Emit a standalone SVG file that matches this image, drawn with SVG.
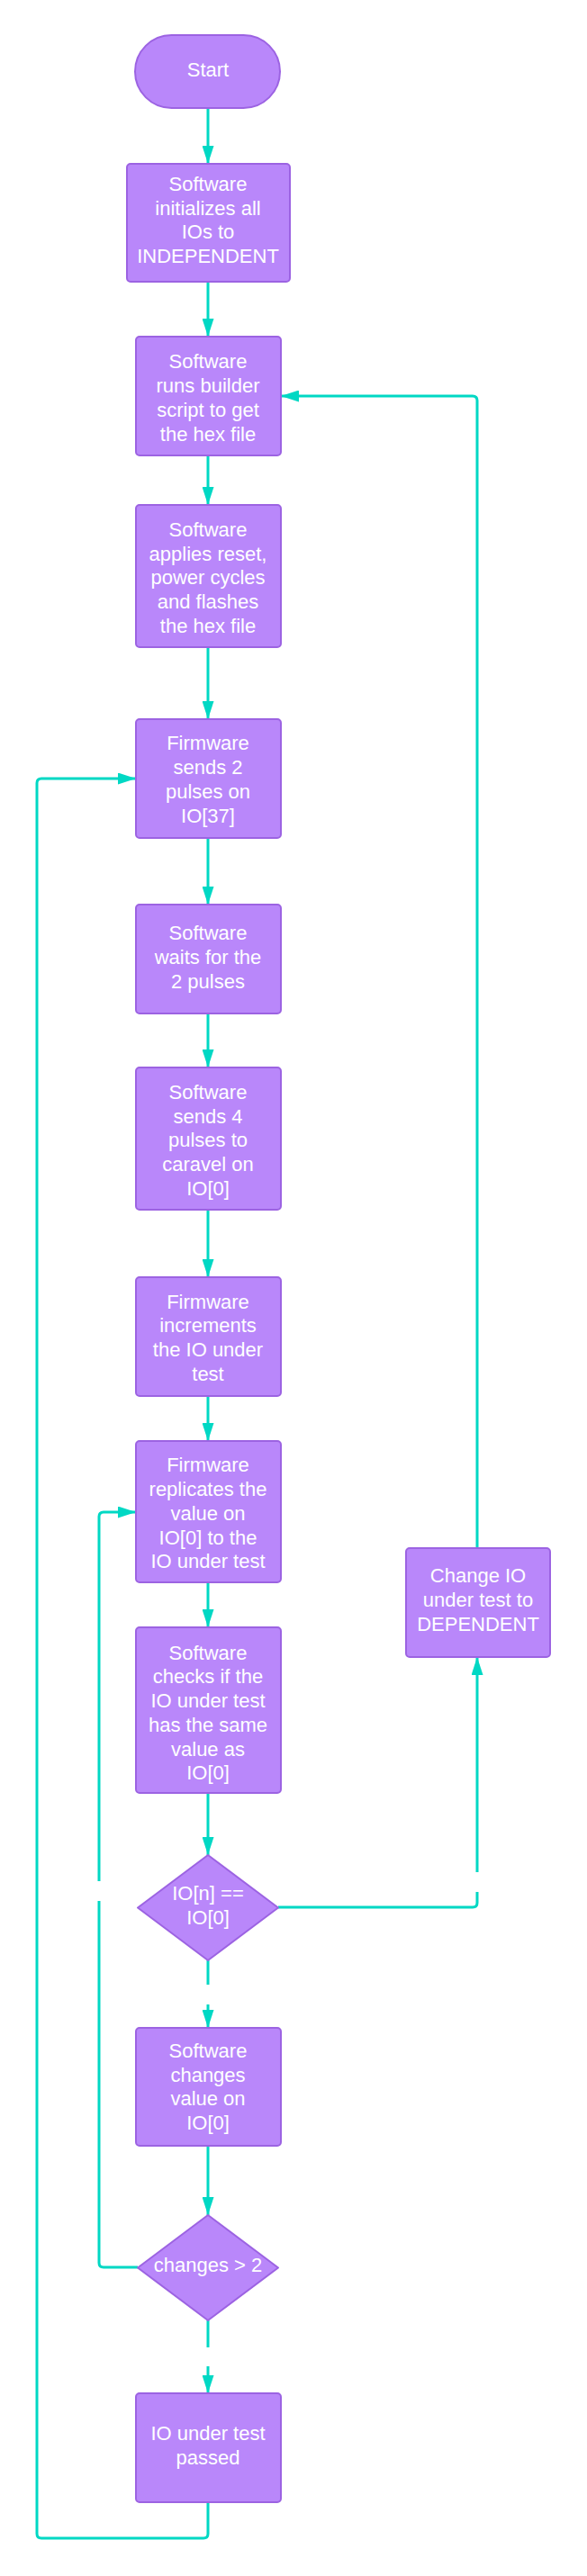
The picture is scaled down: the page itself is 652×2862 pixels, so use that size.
<svg xmlns="http://www.w3.org/2000/svg" width="652" height="2862" viewBox="0 0 652 2862">
<style>
.n{fill:#B987FA;stroke:#9C63E2;stroke-width:2;stroke-linejoin:round}
.t{font-family:"Liberation Sans",Arial,sans-serif;font-size:22px;fill:#FFFFFF;text-anchor:middle}
.c{fill:none;stroke:#00D8C4;stroke-width:3;stroke-linejoin:round}
</style>
<defs>
<marker id="ah" viewBox="0 0 20 13" refX="20" refY="6.5" markerWidth="20" markerHeight="13" markerUnits="userSpaceOnUse" orient="auto">
<path d="M0,0 L20,6.5 L0,13 Z" fill="#00D8C4"/>
</marker>
</defs>
<rect width="652" height="2862" fill="#FFFFFF"/>
<g id="connectors">
<path class="c" d="M231,120 V182" marker-end="url(#ah)"/>
<path class="c" d="M231,313 V374" marker-end="url(#ah)"/>
<path class="c" d="M231,506 V561" marker-end="url(#ah)"/>
<path class="c" d="M231,719 V799" marker-end="url(#ah)"/>
<path class="c" d="M231,931 V1005" marker-end="url(#ah)"/>
<path class="c" d="M231,1126 V1186" marker-end="url(#ah)"/>
<path class="c" d="M231,1344 V1419" marker-end="url(#ah)"/>
<path class="c" d="M231,1551 V1601" marker-end="url(#ah)"/>
<path class="c" d="M231,1758 V1808" marker-end="url(#ah)"/>
<path class="c" d="M231,1992 V2061" marker-end="url(#ah)"/>
<path class="c" d="M231,2178 V2205"/>
<path class="c" d="M231,2227 V2253" marker-end="url(#ah)"/>
<path class="c" d="M231,2384 V2461" marker-end="url(#ah)"/>
<path class="c" d="M231,2578 V2608"/>
<path class="c" d="M231,2629 V2659" marker-end="url(#ah)"/>
<path class="c" d="M153,2519 H115 Q110,2519 110,2514 V2112"/>
<path class="c" d="M110,2090 V1685 Q110,1680 115,1680 H151" marker-end="url(#ah)"/>
<path class="c" d="M309,2119 H525 Q530,2119 530,2114 V2102"/>
<path class="c" d="M530,2080 V1841" marker-end="url(#ah)"/>
<path class="c" d="M530,1720 V445 Q530,440 525,440 H312" marker-end="url(#ah)"/>
<path class="c" d="M231,2780 V2815 Q231,2820 226,2820 H46 Q41,2820 41,2815 V870 Q41,865 46,865 H151" marker-end="url(#ah)"/>
</g>
<g id="start">
<rect class="n" x="150" y="39" width="161" height="81" rx="40.5"/>
<text class="t" x="231" y="85">Start</text>
</g>
<g id="init">
<rect class="n" x="141" y="182" width="181" height="131" rx="4"/>
<text class="t"><tspan x="231" y="212">Software</tspan><tspan x="231" dy="26.7">initializes all</tspan><tspan x="231" dy="26.7">IOs to</tspan><tspan x="231" dy="26.7">INDEPENDENT</tspan></text>
</g>
<g id="builder">
<rect class="n" x="151" y="374" width="161" height="132" rx="4"/>
<text class="t"><tspan x="231" y="409.4">Software</tspan><tspan x="231" dy="26.7">runs builder</tspan><tspan x="231" dy="26.7">script to get</tspan><tspan x="231" dy="26.7">the hex file</tspan></text>
</g>
<g id="flash">
<rect class="n" x="151" y="561" width="161" height="158" rx="4"/>
<text class="t"><tspan x="231" y="596">Software</tspan><tspan x="231" dy="26.7">applies reset,</tspan><tspan x="231" dy="26.7">power cycles</tspan><tspan x="231" dy="26.7">and flashes</tspan><tspan x="231" dy="26.7">the hex file</tspan></text>
</g>
<g id="pulses2">
<rect class="n" x="151" y="799" width="161" height="132" rx="4"/>
<text class="t"><tspan x="231" y="833.4">Firmware</tspan><tspan x="231" dy="26.7">sends 2</tspan><tspan x="231" dy="26.7">pulses on</tspan><tspan x="231" dy="26.7">IO[37]</tspan></text>
</g>
<g id="wait">
<rect class="n" x="151" y="1005" width="161" height="121" rx="4"/>
<text class="t"><tspan x="231" y="1044.4">Software</tspan><tspan x="231" dy="26.7">waits for the</tspan><tspan x="231" dy="26.7">2 pulses</tspan></text>
</g>
<g id="pulses4">
<rect class="n" x="151" y="1186" width="161" height="158" rx="4"/>
<text class="t"><tspan x="231" y="1221">Software</tspan><tspan x="231" dy="26.7">sends 4</tspan><tspan x="231" dy="26.7">pulses to</tspan><tspan x="231" dy="26.7">caravel on</tspan><tspan x="231" dy="26.7">IO[0]</tspan></text>
</g>
<g id="increment">
<rect class="n" x="151" y="1419" width="161" height="132" rx="4"/>
<text class="t"><tspan x="231" y="1453.7">Firmware</tspan><tspan x="231" dy="26.7">increments</tspan><tspan x="231" dy="26.7">the IO under</tspan><tspan x="231" dy="26.7">test</tspan></text>
</g>
<g id="replicate">
<rect class="n" x="151" y="1601" width="161" height="157" rx="4"/>
<text class="t"><tspan x="231" y="1635.4">Firmware</tspan><tspan x="231" dy="26.7">replicates the</tspan><tspan x="231" dy="26.7">value on</tspan><tspan x="231" dy="26.7">IO[0] to the</tspan><tspan x="231" dy="26.7">IO under test</tspan></text>
</g>
<g id="check">
<rect class="n" x="151" y="1808" width="161" height="184" rx="4"/>
<text class="t"><tspan x="231" y="1843.7">Software</tspan><tspan x="231" dy="26.7">checks if the</tspan><tspan x="231" dy="26.7">IO under test</tspan><tspan x="231" dy="26.7">has the same</tspan><tspan x="231" dy="26.7">value as</tspan><tspan x="231" dy="26.7">IO[0]</tspan></text>
</g>
<g id="dependent">
<rect class="n" x="451" y="1720" width="160" height="121" rx="4"/>
<text class="t"><tspan x="531" y="1758.4">Change IO</tspan><tspan x="531" dy="26.7">under test to</tspan><tspan x="531" dy="26.7">DEPENDENT</tspan></text>
</g>
<g id="equal">
<path class="n" d="M231,2061 L309,2119.5 L231,2178 L153,2119.5 Z"/>
<text class="t"><tspan x="231" y="2111">IO[n] ==</tspan><tspan x="231" dy="26.7">IO[0]</tspan></text>
</g>
<g id="changeval">
<rect class="n" x="151" y="2253" width="161" height="131" rx="4"/>
<text class="t"><tspan x="231" y="2286">Software</tspan><tspan x="231" dy="26.7">changes</tspan><tspan x="231" dy="26.7">value on</tspan><tspan x="231" dy="26.7">IO[0]</tspan></text>
</g>
<g id="changes">
<path class="n" d="M231,2461 L309,2519.5 L231,2578 L153,2519.5 Z"/>
<text class="t" x="231" y="2524.4">changes &gt; 2</text>
</g>
<g id="passed">
<rect class="n" x="151" y="2659" width="161" height="121" rx="4"/>
<text class="t"><tspan x="231" y="2711">IO under test</tspan><tspan x="231" dy="26.7">passed</tspan></text>
</g>
</svg>
